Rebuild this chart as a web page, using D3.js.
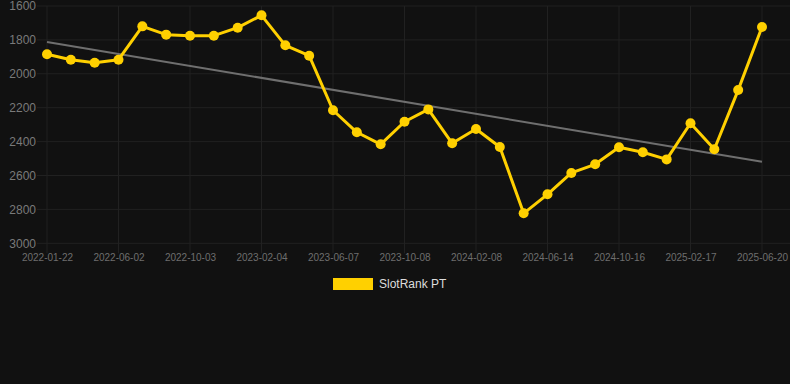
<!DOCTYPE html>
<html>
<head>
<meta charset="utf-8">
<script src="https://cdn.jsdelivr.net/npm/d3@7"></script>
<style>
  html, body { margin: 0; padding: 0; background: #111111; }
  svg { display: block; font-family: "Liberation Sans", Arial, Helvetica, sans-serif; }
</style>
</head>
<body>
<svg id="chart" width="790" height="384"></svg>
<script>
// ---- data ----
const dates = [
  "2022-01-22","2022-03-05","2022-04-18","2022-06-02","2022-07-12","2022-08-22",
  "2022-10-03","2022-11-13","2022-12-25","2023-02-04","2023-03-17","2023-04-27",
  "2023-06-07","2023-07-18","2023-08-28","2023-10-08","2023-11-18","2023-12-29",
  "2024-02-08","2024-03-20","2024-05-02","2024-06-14","2024-07-25","2024-09-04",
  "2024-10-16","2024-11-27","2025-01-07","2025-02-17","2025-03-30","2025-05-10",
  "2025-06-20"
];
const rankValues = [
  1885, 1917, 1935, 1917, 1720, 1769,
  1775, 1775, 1728, 1655, 1832, 1893,
  2215, 2345, 2416, 2283, 2210, 2410,
  2326, 2432, 2823, 2711, 2585, 2534,
  2433, 2463, 2505, 2292, 2445, 2096,
  1724
];
const trendValues = [1812, 2519]; // trend line at first and last date
const yTicks = [1600, 1800, 2000, 2200, 2400, 2600, 2800, 3000];
const xTickLabels = ["2022-01-22","2022-06-02","2022-10-03","2023-02-04","2023-06-07",
  "2023-10-08","2024-02-08","2024-06-14","2024-10-16","2025-02-17","2025-06-20"];
const seriesName = "SlotRank PT";

(function () {
// ---- layout ----
const svg = d3.select("#chart");
const pLeft = 47, pRight = 762, pTop = 6, pBottom = 243.3;
const gold = "#FFD000";
const gridColor = "#212121";

const x = d3.scalePoint().domain(dates).range([pLeft, pRight]);
const y = d3.scaleLinear().domain([1600, 3000]).range([pTop, pBottom]);

// horizontal grid
const gGrid = svg.append("g");
gGrid.selectAll("line.h").data(yTicks).enter().append("line").attr("class", "h")
  .attr("x1", pLeft - 10).attr("x2", 790)
  .attr("y1", d => y(d)).attr("y2", d => y(d))
  .attr("stroke", gridColor).attr("stroke-width", 1);
// vertical grid
gGrid.selectAll("line.v").data(xTickLabels).enter().append("line").attr("class", "v")
  .attr("x1", d => x(d)).attr("x2", d => x(d))
  .attr("y1", pTop).attr("y2", pBottom + 10)
  .attr("stroke", gridColor).attr("stroke-width", 1);

// y axis labels
const yAxis = d3.axisLeft(y).tickValues(yTicks).tickSize(0).tickPadding(0).tickFormat(d3.format("d"));
const gy = svg.append("g").attr("transform", `translate(${pLeft - 11},0)`).call(yAxis);
gy.select(".domain").remove();
gy.selectAll("text").attr("fill", "#7a7a7a").style("font-size", "12px")
  .style("font-family", "'Liberation Sans', Arial, sans-serif");

// x axis labels
const xAxis = d3.axisBottom(x).tickValues(xTickLabels).tickSize(0).tickPadding(0);
const gx = svg.append("g").attr("transform", `translate(0,${pBottom + 11})`).call(xAxis);
gx.select(".domain").remove();
gx.selectAll("text").attr("fill", "#6e6e6e").style("font-size", "10px")
  .attr("dy", "0.71em")
  .style("font-family", "'Liberation Sans', Arial, sans-serif");

// trend line
svg.append("line")
  .attr("x1", x(dates[0])).attr("y1", y(trendValues[0]))
  .attr("x2", x(dates[dates.length - 1])).attr("y2", y(trendValues[1]))
  .attr("stroke", "#6f6f6f").attr("stroke-width", 2);

// series line
const data = dates.map((d, i) => ({ d, v: rankValues[i] }));
svg.append("path").datum(data)
  .attr("fill", "none").attr("stroke", gold).attr("stroke-width", 3)
  .attr("stroke-linejoin", "round")
  .attr("d", d3.line().x(p => x(p.d)).y(p => y(p.v)));

svg.append("g").selectAll("circle").data(data).enter().append("circle")
  .attr("cx", p => x(p.d)).attr("cy", p => y(p.v)).attr("r", 5)
  .attr("fill", gold);

// legend
const lg = svg.append("g");
lg.append("rect").attr("x", 333).attr("y", 278).attr("width", 40).attr("height", 12).attr("fill", gold);
lg.append("text").attr("x", 379).attr("y", 284).attr("dy", "0.35em")
  .attr("fill", "#dddddd").style("font-size", "12px").text(seriesName);
})();
</script>
</body>
</html>
